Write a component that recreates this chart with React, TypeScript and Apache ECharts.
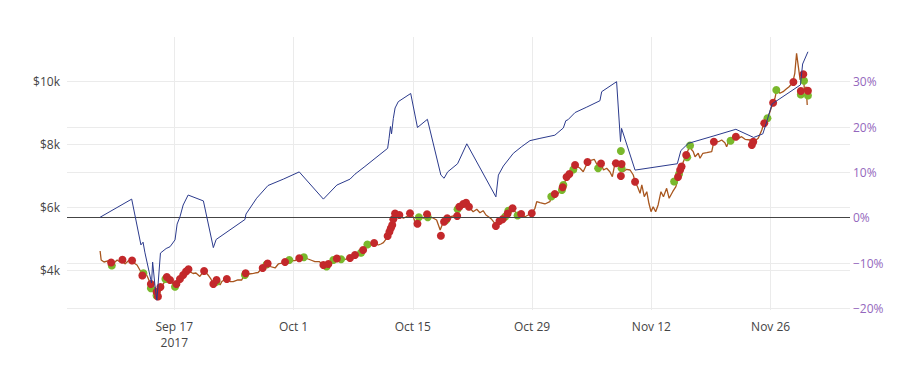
import React, { useEffect, useRef } from "react";
import * as echarts from "echarts";

// ---- data (time as "MM-DD HH", year 2017, UTC) ----
const priceTimes = [
  "09-08 07","09-08 10","09-08 18","09-09 05","09-09 14","09-09 22","09-10 07","09-10 15","09-10 21","09-11 05",
  "09-11 14","09-12 01","09-12 06","09-12 15","09-12 23","09-13 05","09-13 14","09-13 22","09-14 06","09-14 12",
  "09-14 18","09-14 23","09-15 05","09-15 11","09-15 19","09-16 03","09-16 12","09-16 20","09-17 02","09-17 10",
  "09-17 19","09-18 03","09-18 12","09-18 20","09-19 05","09-19 13","09-20 00","09-20 12","09-20 23","09-21 07",
  "09-21 14","09-21 23","09-22 09","09-22 14","09-23 04","09-23 13","09-23 22","09-24 11","09-24 22","09-25 07",
  "09-25 18","09-26 07","09-26 20","09-27 08","09-27 20","09-28 06","09-28 20","09-29 05","09-29 15","09-30 00",
  "09-30 14","10-01 04","10-01 16","10-02 05","10-02 17","10-03 04","10-03 12","10-04 01","10-04 12","10-05 02",
  "10-05 16","10-06 02","10-06 14","10-07 01","10-07 15","10-07 23","10-08 08","10-08 22","10-09 07","10-09 16",
  "10-10 02","10-10 11","10-10 23","10-11 06","10-11 13","10-11 22","10-12 03","10-12 08","10-12 12","10-12 17",
  "10-12 22","10-13 03","10-13 12","10-13 21","10-14 07","10-14 16","10-15 01","10-15 06","10-15 14","10-15 20",
  "10-16 06","10-16 15","10-17 00","10-17 10","10-17 19","10-18 05","10-18 14","10-18 23","10-19 11","10-20 04",
  "10-20 08","10-20 19","10-21 08","10-21 17","10-22 02","10-22 12","10-22 21","10-23 06","10-23 14","10-23 21",
  "10-24 06","10-24 15","10-25 01","10-25 10","10-25 20","10-26 05","10-26 17","10-27 05","10-27 16","10-28 04",
  "10-28 13","10-28 23","10-29 08","10-29 13","10-29 22","10-30 12","10-31 02","10-31 07","10-31 16","11-01 02",
  "11-01 11","11-01 16","11-02 01","11-02 11","11-02 20","11-03 01","11-03 15","11-04 00","11-04 13","11-05 00",
  "11-05 07","11-05 18","11-06 02","11-06 09","11-06 18","11-07 03","11-07 10","11-07 17","11-08 03","11-08 08",
  "11-08 17","11-09 02","11-09 12","11-09 21","11-10 02","11-10 09","11-10 16","11-10 21","11-11 04","11-11 11",
  "11-11 17","11-11 23","11-12 05","11-12 12","11-12 19","11-13 03","11-13 10","11-13 19","11-14 02","11-14 12",
  "11-14 21","11-15 04","11-15 09","11-15 13","11-15 18","11-16 02","11-16 13","11-16 18","11-16 22","11-17 03",
  "11-17 12","11-17 17","11-18 01","11-18 12","11-19 02","11-19 08","11-19 21","11-20 06","11-20 15","11-20 20",
  "11-21 05","11-21 20","11-22 05","11-22 14","11-23 00","11-23 14","11-23 19","11-24 04","11-24 13","11-24 23",
  "11-25 05","11-25 15","11-25 22","11-26 06","11-26 12","11-26 17","11-27 02","11-27 11","11-27 19","11-28 04",
  "11-28 14","11-28 20","11-29 01","11-29 06","11-29 11","11-29 15","11-29 20","11-29 23","11-30 04","11-30 07"
];
const priceValues = [
  4625,4340,4276,4308,4244,4244,4340,4276,4371,4213,
  4308,4340,4244,4181,4022,3895,3959,3768,3546,3387,
  3482,3229,3165,3482,3610,3800,3705,3578,3514,3705,
  3800,3927,4022,3968,3911,3927,3816,4006,3864,3737,
  3594,3721,3546,3657,3759,3657,3651,3705,3705,3917,
  3895,3917,3943,4086,4213,4133,4086,4213,4244,4286,
  4324,4318,4394,4425,4371,4324,4286,4286,4181,4213,
  4340,4394,4362,4362,4403,4467,4514,4571,4657,4848,
  4816,4879,4816,4848,4889,5029,5187,5346,5505,5664,
  5800,5784,5768,5664,5714,5822,5714,5556,5505,5714,
  5664,5800,5714,5664,5610,5292,5556,5664,5714,5768,
  5949,6054,6118,5981,5873,5949,5841,5905,5768,5714,
  5632,5505,5556,5632,5714,5841,5981,5800,5800,5714,
  5768,5822,5981,6190,6159,6118,6190,6371,6435,6457,
  6584,6721,6933,7092,7197,7356,7251,7143,7460,7514,
  7537,7302,7410,7197,7251,7143,6984,7387,7410,7251,
  7143,7219,7197,7038,6825,6667,6457,6721,6349,6508,
  6140,5873,6032,5873,6086,6508,6349,6616,6298,6508,
  6667,6965,7197,7302,7460,7673,7990,7832,7778,7619,
  7727,7568,7727,7746,7778,8095,8095,8149,8064,7937,
  8203,8254,8203,8254,8171,8149,7990,8127,8203,8467,
  8679,8838,9048,9314,9473,9737,9632,9683,9759,9841,
  9968,10267,10902,10476,10054,10159,10267,9737,9841,9260
];

const returnTimes = [
  "09-08 07","09-12 00","09-13 02","09-13 08","09-13 13","09-14 08","09-14 11","09-14 18","09-14 23","09-15 09",
  "09-16 01","09-16 12","09-17 02","09-17 08","09-17 16","09-18 01","09-18 15","09-20 10","09-21 14","09-21 22",
  "09-25 07","09-25 10","09-26 16","09-28 00","09-29 19","10-01 16","10-04 12","10-06 02","10-07 15","10-08 05",
  "10-09 09","10-12 01","10-12 05","10-12 09","10-12 12","10-12 17","10-12 22","10-13 07","10-14 18","10-15 13",
  "10-16 17","10-18 07","10-18 16","10-19 02","10-20 06","10-21 08","10-24 18","10-25 01","10-25 15","10-26 19",
  "10-27 19","10-28 18","10-29 22","10-31 16","11-01 16","11-01 23","11-02 05","11-03 01","11-04 10","11-05 23",
  "11-06 04","11-07 22","11-08 09","11-08 12","11-10 02","11-15 01","11-15 11","11-16 08","11-19 06","11-21 22",
  "11-24 00","11-25 02","11-25 11","11-26 04","11-29 12","11-29 18","11-30 09"
];
const returnValues = [
  0.1,4.1,-6.0,-5.4,-7.6,-14.4,-9.8,-15.3,-18.2,-7.8,
  -6.8,-6.4,-4.9,-1.4,0.2,2.8,5.0,3.7,-6.6,-4.8,
  -0.4,0.8,4.3,7.1,8.5,10.1,4.1,7.2,8.5,9.6,
  11.3,15.3,17.5,20.1,18.5,21.9,24.2,25.6,27.4,19.9,
  21.7,9.4,8.7,10.1,11.9,16.3,4.6,9.4,11.4,14.2,
  15.7,17.0,17.5,18.2,19.8,21.4,21.6,23.2,24.4,25.8,
  27.8,30.0,16.8,19.7,10.5,11.9,14.8,16.4,18.0,19.5,
  17.7,18.5,20.7,25.1,29.3,33.9,36.6
];

const buyTimes = [
  "09-09 16","09-13 09","09-14 06","09-14 22","09-15 23","09-17 02","09-21 23","09-25 07","09-27 20","09-30 12",
  "10-02 05","10-04 21","10-05 16","10-06 14","10-08 22","10-09 16","10-15 17","10-16 18","10-18 22","10-20 06",
  "10-25 20","10-26 05","10-27 07","10-31 06","11-01 12","11-01 16","11-02 20","11-05 18","11-08 10","11-08 12",
  "11-14 16","11-15 06","11-16 05","11-16 13","11-21 07","11-25 15","11-26 16","11-29 22","11-29 13","11-30 09"
];
const buyPrices = [
  4165,3917,3441,3213,3737,3492,3651,3864,4197,4340,
  4425,4133,4340,4362,4571,4832,5695,5695,5610,5949,
  5714,5905,5752,6356,6562,6721,7213,7251,7800,7251,
  6832,7070,7600,7975,8127,8838,9737,10032,9594,9562
];

const sellTimes = [
  "09-09 14","09-10 22","09-12 01","09-13 06","09-14 06","09-14 22","09-15 02","09-15 09","09-16 03","09-16 12",
  "09-17 06","09-17 16","09-18 01","09-18 09","09-18 16","09-20 12","09-21 14","09-21 23","09-23 04","09-25 09",
  "09-27 09","09-27 23","09-30 00","10-01 16","10-04 12","10-05 02","10-06 02","10-07 15","10-08 05","10-09 04",
  "10-10 11","10-12 01","10-12 06","10-12 10","10-12 14","10-12 17","10-12 22","10-13 10","10-14 16","10-15 13",
  "10-16 16","10-18 07","10-18 16","10-19 01","10-20 05","10-20 11","10-20 22","10-21 06","10-21 14","10-24 18",
  "10-25 04","10-25 13","10-26 03","10-26 17","10-27 17","10-28 23","10-31 16","11-01 14","11-02 01","11-02 09",
  "11-03 01","11-04 12","11-06 02","11-07 20","11-08 12","11-08 10","11-10 02","11-15 03","11-15 09","11-15 13",
  "11-16 02","11-19 08","11-21 22","11-23 19","11-23 23","11-25 06","11-26 07","11-28 16","11-29 13","11-29 20",
  "11-30 09"
];
const sellPrices = [
  4260,4346,4324,3848,3578,3324,3181,3482,3800,3705,
  3578,3737,3864,3975,4044,3990,3578,3705,3737,3917,
  4086,4229,4276,4394,4181,4213,4387,4403,4498,4657,
  4879,5102,5238,5346,5451,5632,5816,5768,5822,5492,
  5794,5108,5556,5664,5737,6032,6118,6159,6032,5419,
  5578,5632,5816,5981,5800,5822,6435,6648,6975,7070,
  7356,7451,7403,7410,7387,7006,6825,6975,7197,7308,
  7673,8095,8254,7990,8095,8679,9333,9990,9705,10235,
  9714
];

const xTickTimes = ["09-17 00","10-01 00","10-15 00","10-29 00","11-12 00","11-26 00"];
const priceTicks = [4000, 6000, 8000, 10000];
const returnTicks = [-20, -10, 0, 10, 20, 30];

const MONTHS = ["Jan","Feb","Mar","Apr","May","Jun","Jul","Aug","Sep","Oct","Nov","Dec"];

function ts(s: string): number {
  const [md, hh] = s.split(" ");
  const [m, d] = md.split("-").map(Number);
  return Date.UTC(2017, m - 1, d, Number(hh));
}

function zip(times: string[], vals: number[]) {
  return times.map((t, i) => [ts(t), vals[i]]);
}

export default function App() {
  const ref = useRef<HTMLDivElement>(null);
  useEffect(() => {
    if (!ref.current) return;
    const chart = echarts.init(ref.current, undefined, { renderer: "svg" });
    const xTicks = xTickTimes.map(ts);
    const font = "'Open Sans', verdana, arial, sans-serif";
    const gridColor = "#ebebeb";
    chart.setOption({
      animation: false,
      backgroundColor: "#fff",
      grid: { left: 67, right: 59, top: 37, bottom: 62 },
      xAxis: {
        type: "value",
        min: Date.UTC(2017, 8, 4, 9, 45),
        max: Date.UTC(2017, 11, 5, 7, 30),
        axisLine: { show: false },
        axisTick: { show: false, customValues: xTicks },
        axisLabel: {
          customValues: xTicks,
          color: "#444",
          fontSize: 12,
          fontFamily: font,
          margin: 8,
          lineHeight: 16,
          formatter: (v: number) => {
            const d = new Date(v);
            const s = MONTHS[d.getUTCMonth()] + " " + d.getUTCDate();
            return v === xTicks[0] ? s + "\n" + d.getUTCFullYear() : s;
          },
        },
        splitLine: { show: true, lineStyle: { color: gridColor, width: 1 } },
      },
      yAxis: [
        {
          type: "value",
          position: "left",
          min: 2752,
          max: 11419,
          axisLine: { show: false },
          axisTick: { show: false, customValues: priceTicks },
          axisLabel: {
            customValues: priceTicks,
            color: "#444",
            fontSize: 12,
            fontFamily: font,
            margin: 7,
            formatter: (v: number) => "$" + v / 1000 + "k",
          },
          splitLine: { show: true, lineStyle: { color: gridColor, width: 1 } },
        },
        {
          type: "value",
          position: "right",
          min: -20.36,
          max: 39.86,
          axisLine: { show: false },
          axisTick: { show: false, customValues: returnTicks },
          axisLabel: {
            customValues: returnTicks,
            color: "#9467bd",
            fontSize: 12,
            fontFamily: font,
            margin: 3,
            formatter: (v: number) => (v < 0 ? "\u2212" + -v : String(v)) + "%",
          },
          splitLine: { show: true, lineStyle: { color: gridColor, width: 1 } },
        },
      ],
      series: [
        {
          name: "Price",
          type: "line",
          xAxisIndex: 0,
          yAxisIndex: 0,
          data: zip(priceTimes, priceValues),
          showSymbol: false,
          lineStyle: { color: "#a8561e", width: 1.3 },
          itemStyle: { color: "#a8561e" },
          z: 2,
        },
        {
          name: "Buy",
          type: "scatter",
          yAxisIndex: 0,
          data: zip(buyTimes, buyPrices),
          symbolSize: 8,
          itemStyle: { color: "#7ab82c", opacity: 1 },
          z: 3,
        },
        {
          name: "Sell",
          type: "scatter",
          yAxisIndex: 0,
          data: zip(sellTimes, sellPrices),
          symbolSize: 8,
          itemStyle: { color: "#c3282b", opacity: 1 },
          z: 4,
        },
        {
          name: "Returns",
          type: "line",
          yAxisIndex: 1,
          data: zip(returnTimes, returnValues),
          showSymbol: false,
          lineStyle: { color: "#2b3a8c", width: 1 },
          itemStyle: { color: "#2b3a8c" },
          z: 5,
          markLine: {
            silent: true,
            symbol: ["none", "none"],
            label: { show: false },
            lineStyle: { color: "#444", width: 1, type: "solid" },
            data: [{ yAxis: 0 }],
          },
        },
      ],
    });
    return () => chart.dispose();
  }, []);
  return (
    <div
      ref={ref}
      style={{ position: "fixed", left: 0, top: 0, width: 909, height: 372 }}
    />
  );
}
